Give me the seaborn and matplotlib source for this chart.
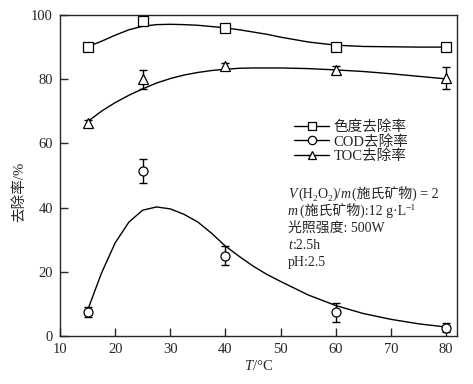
import matplotlib
matplotlib.use("Agg")
import matplotlib.pyplot as plt
import seaborn as sns
import pandas as pd
from matplotlib.transforms import IdentityTransform
from matplotlib.lines import Line2D

# measured points
temps = [15, 25, 40, 60, 80]
color_rate = [90, 98, 96, 90, 90]
color_err = [0, 0, 0, 0, 0]
cod_rate = [7.4, 51.4, 25, 7.4, 2.6]
cod_err = [1.5, 3.8, 3.0, 3.0, 1.5]
toc_rate = [66.4, 80, 84, 83, 80.4]
toc_err = [1.0, 3.0, 1.0, 1.0, 3.5]

# fitted curves
fit_t = [15, 17.5, 20, 22.5, 25, 27.5, 30, 32.5, 35, 37.5, 40, 42.5, 45,
         47.5, 50, 55, 60, 65, 70, 75, 80]
color_fit = [90.1, 91.8, 93.7, 95.4, 96.5, 97.0, 97.1, 97.0, 96.8, 96.4, 96.0,
             95.4, 94.7, 94.0, 93.1, 91.6, 90.6, 90.2, 90.1, 90.0, 90.0]
toc_fit = [66.8, 70.0, 72.7, 75.0, 77.0, 78.8, 80.2, 81.3, 82.1, 82.7, 83.1,
           83.4, 83.5, 83.5, 83.5, 83.3, 82.9, 82.4, 81.7, 80.9, 80.1]
cod_fit = [8.0, 19.5, 29.0, 35.5, 39.2, 40.2, 39.6, 37.9, 35.5, 32.0, 28.0,
           24.8, 21.8, 19.2, 17.0, 12.8, 9.5, 7.0, 5.2, 3.8, 2.8]

labels = ["色度去除率", "COD去除率", "TOC去除率"]
markers = ["s", "o", "^"]

sns.set_style("ticks")
FONT = ["Liberation Serif", "Noto Sans CJK SC"]
plt.rcParams["font.family"] = FONT
plt.rcParams["mathtext.fontset"] = "custom"
plt.rcParams["mathtext.rm"] = "Liberation Serif"
plt.rcParams["mathtext.it"] = "Liberation Serif:italic"
FS = 10.5
NOTE_FS = 10

fig = plt.figure(figsize=(4.73, 3.84), dpi=100)
ax = fig.add_axes([60 / 473, 48 / 384, 397 / 473, 321 / 384])

fits = pd.DataFrame({"T": fit_t, "色度": color_fit, "TOC": toc_fit, "COD": cod_fit})
for col in ["色度", "COD", "TOC"]:
    sns.lineplot(data=fits, x="T", y=col, ax=ax, color="black", lw=1.0)

series = [(color_rate, color_err), (cod_rate, cod_err), (toc_rate, toc_err)]
for (vals, errs), mk in zip(series, markers):
    ax.errorbar(temps, vals, yerr=errs, fmt="none", ecolor="black",
                elinewidth=1.0, capsize=3, capthick=1.0, zorder=3)
    ax.plot(temps, vals, ls="none", marker=mk, ms=6.5, mfc="white",
            mec="black", mew=0.9, zorder=4)

ax.set_xlim(10, 82)
ax.set_ylim(0, 100)
ax.set_xticks(range(10, 90, 10))
ax.set_yticks(range(0, 120, 20))
ax.tick_params(direction="in", length=6, width=1, labelsize=FS, pad=5,
               top=False, right=False)
for s in ax.spines.values():
    s.set_linewidth(1.0)
    s.set_visible(True)
ax.set_xlabel("$T$/°C", fontsize=FS, labelpad=2)
ax.set_ylabel("去除率/%", fontsize=FS)
ax.yaxis.set_label_coords(-0.085, 0.45)

handles = [Line2D([], [], color="black", lw=1.0, marker=m, ms=6, mfc="white",
                  mec="black", mew=0.9) for m in markers]
ax.legend(handles, labels, loc="upper left", bbox_to_anchor=(0.575, 0.69),
          frameon=False, fontsize=FS, handlelength=2.4, labelspacing=0.05,
          handletextpad=0.3, borderaxespad=0)

# condition notes, built piece by piece so Chinese and sub/superscripts mix
renderer = fig.canvas.get_renderer()


def advance(text, style, size):
    # ink boxes drop side bearings and spaces, so wrap the piece in bars
    def w(s):
        t = fig.text(0, 0, s, fontsize=size, style=style, family=FONT)
        width = t.get_window_extent(renderer).width
        t.remove()
        return width
    extra = 1.5 if style == "italic" else 0
    return w("|" + text + "|") - w("||") + extra


def rich_line(x, y_top, parts):
    y = 384 - y_top
    for text, style, shift in parts:
        size = NOTE_FS * 0.68 if shift else NOTE_FS
        fig.text(x, y + shift, text, transform=IdentityTransform(),
                 fontsize=size, style=style, va="baseline", ha="left",
                 family=FONT)
        x += advance(text, style, size)


notes = [
    (198, [("V", "italic", 0), ("(H", "normal", 0), ("2", "normal", -3),
           ("O", "normal", 0), ("2", "normal", -3), (")/", "normal", 0),
           ("m", "italic", 0), ("(施氏矿物) = 2", "normal", 0)]),
    (215, [("m", "italic", 0), ("(施氏矿物):12 g·L", "normal", 0),
           ("−1", "normal", 5)]),
    (232, [("光照强度: 500W", "normal", 0)]),
    (249, [("t", "italic", 0), (":2.5h", "normal", 0)]),
    (266, [("pH:2.5", "normal", 0)]),
]
for y_top, parts in notes:
    rich_line(288, y_top, parts)

fig.savefig("out.png", dpi=100)
